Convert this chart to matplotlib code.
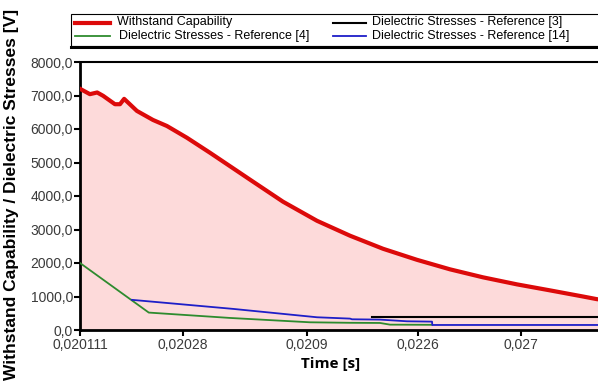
import numpy as np
import matplotlib
matplotlib.use('Agg')
import matplotlib.pyplot as plt
from matplotlib.lines import Line2D
from matplotlib.patches import Rectangle

plt.rcParams['font.family'] = ['Liberation Sans', 'DejaVu Sans']

# ---- data ----
# withstand capability (red)
t_withstand = [0.020111, 0.020121, 0.020129, 0.020136, 0.020151, 0.020158, 0.020164,
               0.020184, 0.020213, 0.020242, 0.020291, 0.020361, 0.020478, 0.020525,
               0.020718, 0.020992, 0.021359, 0.021864, 0.022581, 0.023544, 0.024868,
               0.026747, 0.029268, 0.032731, 0.034571, 0.035291]
v_withstand = [7200, 7040, 7090, 6990, 6740, 6740, 6900,
               6540, 6270, 6090, 5740, 5290, 4690, 4490,
               3830, 3260, 2815, 2425, 2095, 1811, 1572,
               1362, 1183, 1000, 920, 905]

# dielectric stresses - reference [4] (green)
t_ref4 = [0.020111, 0.020205, 0.020435, 0.020928, 0.021359, 0.021811, 0.021993, 0.022982]
v_ref4 = [2000, 520, 360, 230, 215, 210, 160, 155]

# dielectric stresses - reference [14] (blue)
t_ref14 = [0.020176, 0.020448, 0.020992, 0.021359, 0.021385, 0.021811, 0.022346,
           0.022982, 0.022990, 0.035291]
v_ref14 = [900, 630, 380, 340, 320, 310, 260, 250, 150, 150]

# dielectric stresses - reference [3] (black)
t_ref3 = [0.021677, 0.035291]
v_ref3 = [400, 400]

xticks = [0.020111, 0.02028, 0.0209, 0.0226, 0.027]
xtick_labels = ['0,020111', '0,02028', '0,0209', '0,0226', '0,027']
yticks = [0, 1000, 2000, 3000, 4000, 5000, 6000, 7000, 8000]

legend_labels = ['Withstand Capability',
                 'Dielectric Stresses - Reference [4]',
                 'Dielectric Stresses - Reference [3]',
                 'Dielectric Stresses - Reference [14]']

# time axis: log of (t - offset)
T0 = 0.020011
def fwd(t):
    return np.log10(np.clip(np.asarray(t) - T0, 1e-9, None))
def inv(u):
    return T0 + 10 ** np.asarray(u)

W, H = 598, 385
def fx(x):
    return x / W
def fy(y):
    return 1 - y / H

fig = plt.figure(figsize=(W / 100, H / 100), dpi=100)
ax = fig.add_axes([fx(80), fy(330), (602 - 80) / W, (330 - 62) / H])

ax.set_xscale('function', functions=(fwd, inv))
ax.set_xlim(0.020111, 0.035291)
ax.set_ylim(0, 8000)

red = '#dc0a0a'
green = '#2e8b2e'
blue = '#1e1ec8'

ax.fill_between(t_withstand, 0, v_withstand, color='#fddada', lw=0, zorder=1)
ax.plot(t_withstand, v_withstand, color=red, lw=3, zorder=4, solid_joinstyle='round')
ax.plot(t_ref4, v_ref4, color=green, lw=1.3, zorder=3)
ax.plot(t_ref14, v_ref14, color=blue, lw=1.3, zorder=3)
ax.plot(t_ref3, v_ref3, color='black', lw=1.5, zorder=3)

ax.set_xticks(xticks)
ax.set_xticklabels(xtick_labels)
ax.set_yticks(yticks)
ax.set_yticklabels([f'{v:.1f}'.replace('.', ',') for v in yticks])
ax.xaxis.set_minor_locator(matplotlib.ticker.NullLocator())
ax.tick_params(axis='both', direction='out', length=4, width=1.5, labelsize=10,
               labelcolor='#3a3a3a', pad=1)
ax.tick_params(axis='x', pad=2)

for side in ['left', 'bottom']:
    ax.spines[side].set_linewidth(2)
ax.spines['top'].set_linewidth(1.5)
ax.spines['right'].set_visible(False)

fig.text(fx(331), fy(364), 'Time [s]', family=['Open Sans', 'DejaVu Sans'],
         fontweight='bold', fontsize=11, ha='center', va='center')
fig.text(fx(12), fy(194), 'Withstand Capability / Dielectric Stresses [V]',
         fontweight='bold', fontsize=12.5, rotation=90, ha='center', va='center')

# legend box drawn in figure pixels
fig.patches.append(Rectangle((fx(71), fy(46)), (640 - 71) / W, (46 - 14) / H,
                             transform=fig.transFigure, facecolor='white',
                             edgecolor='black', lw=0.8, zorder=5))
fig.lines.append(Line2D([fx(71), fx(640)], [fy(46.5), fy(46.5)],
                        transform=fig.transFigure, color='black', lw=2.2, zorder=6))

entries = [(75, 110, 22.5, 117, red, 3),
           (75, 110, 35.5, 119, green, 1.3),
           (333, 366, 22.5, 372, 'black', 1.5),
           (333, 366, 35.5, 372, blue, 1.3)]
for (x0, x1, y, xt, c, lw), lab in zip(entries, legend_labels):
    fig.lines.append(Line2D([fx(x0), fx(x1)], [fy(y), fy(y)],
                            transform=fig.transFigure, color=c, lw=lw, zorder=7))
    fig.text(fx(xt), fy(y), lab, fontsize=9, ha='left', va='center', zorder=7)

fig.savefig('out.png', dpi=100)
